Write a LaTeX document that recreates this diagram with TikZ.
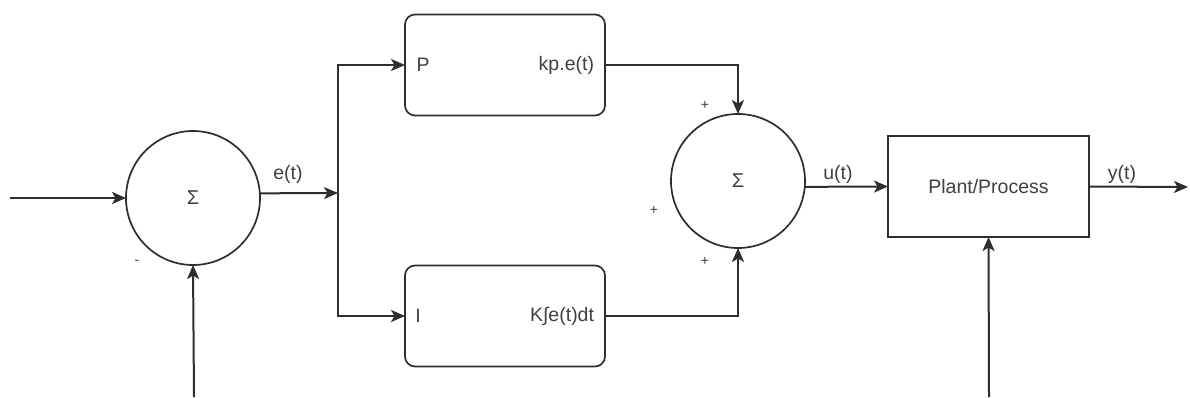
\documentclass[tikz,border=0pt]{standalone}
\usepackage{fontspec}
\setmainfont{Liberation Sans}
\usetikzlibrary{arrows.meta}
\definecolor{ln}{HTML}{2E2E2E}
\definecolor{tx}{HTML}{404040}
\begin{document}
\begin{tikzpicture}[x=1pt,y=-1pt,
  every node/.style={inner sep=0pt,outer sep=0pt},
  sumnode/.style={circle,draw=ln,line width=1.7pt,minimum size=134pt,text=tx,font=\fontsize{20}{22}\selectfont},
  ctrlbox/.style={draw=ln,line width=1.7pt,rounded corners=10pt,minimum width=200pt,minimum height=101pt},
  plantbox/.style={draw=ln,line width=1.7pt,minimum width=201pt,minimum height=101pt,text=tx,font=\fontsize{19.5}{22}\selectfont},
  lbl/.style={text=tx,font=\fontsize{19.5}{22}\selectfont},
  sgn/.style={text=tx,font=\fontsize{14}{16}\selectfont},
  conn/.style={draw=ln,line width=2pt,-{Stealth[length=14pt,width=12pt,inset=3.5pt]}}
]
\useasboundingbox (0,0) rectangle (1190,397);
\fill[white] (0,0) rectangle (1190,397);

\node[sumnode] (c1) at (193,198) {Σ};
\node[ctrlbox] (P) at (505,65) {};
\node[ctrlbox] (I) at (505,316) {};
\node[sumnode] (c2) at (738,181) {Σ};
\node[plantbox] (plant) at (988.5,186.5) {Plant/Process};

\node[lbl] (Pl) at (423,65) {P};
\node[lbl,anchor=east] (Po) at (594,65) {kp.e(t)};
\node[lbl] (Il) at (418,316) {I};
\node[lbl,anchor=east] (Io) at (594,316) {K∫e(t)dt};

\coordinate (in) at (10,198);
\coordinate (fb) at (194,397);
\coordinate (split) at (338,193);
\coordinate (yout) at (1188,187);
\coordinate (dist) at (989,397);

\draw[conn] (in) -- (c1.west);
\draw[conn] (fb) -- (c1.south);
\draw[conn] (c1.4) -- (split);
\draw[conn] (split) |- (P.west);
\draw[conn] (split) |- (I.west);
\draw[conn] (P.east) -| (c2.north);
\draw[conn] (I.east) -| (c2.south);
\draw[conn] (c2.-5) -- (plant.west);
\draw[conn] (plant.east) -- (yout);
\draw[conn] (dist) -- (plant.south);

\node[lbl] (et) at (288,174) {e(t)};
\node[lbl] (ut) at (838,174) {u(t)};
\node[lbl] (yt) at (1122,174) {y(t)};
\node[sgn] (minus) at (137,262) {-};
\node[sgn] (p1) at (705,105) {+};
\node[sgn] (p2) at (654,210) {+};
\node[sgn] (p3) at (705,261) {+};
\end{tikzpicture}
\end{document}
